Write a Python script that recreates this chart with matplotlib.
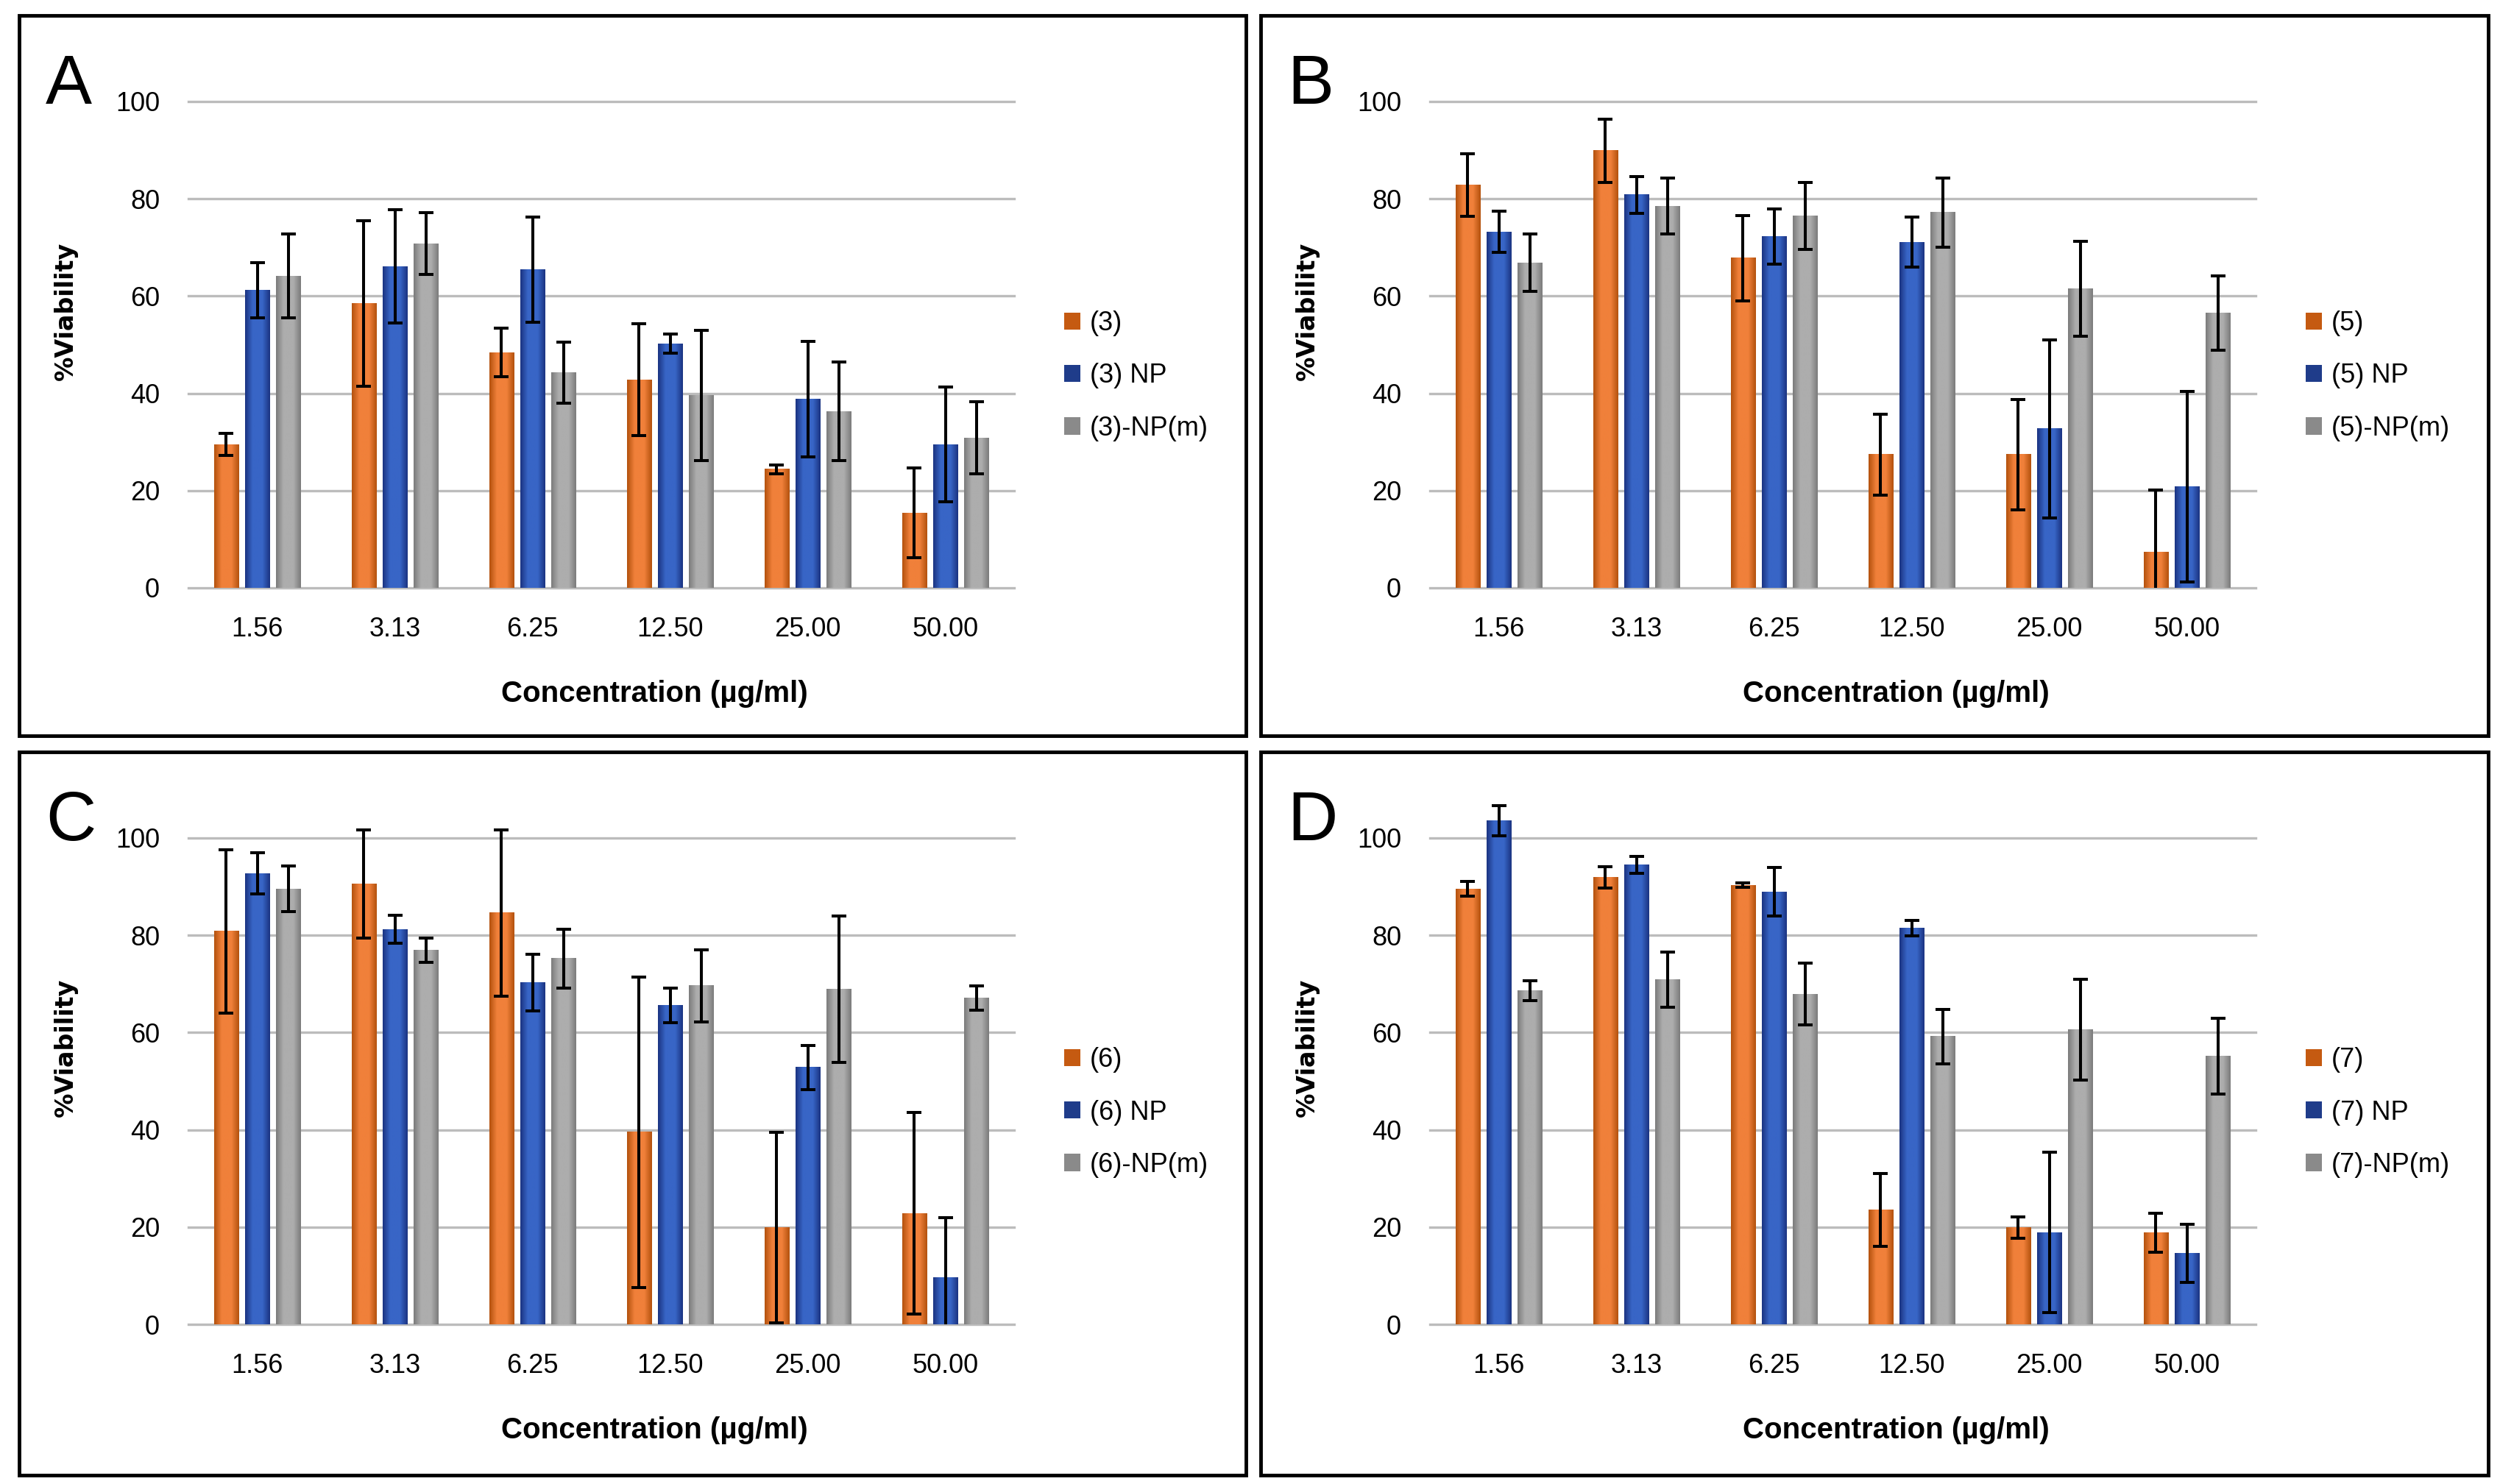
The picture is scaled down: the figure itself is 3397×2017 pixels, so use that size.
import numpy as np
import matplotlib
matplotlib.use("Agg")
import matplotlib.pyplot as plt
from matplotlib.colors import LinearSegmentedColormap
from matplotlib.patches import Rectangle, Patch

# ------------- Data --------------
concentrations = ["1.56", "3.13", "6.25", "12.50", "25.00", "50.00"]

a_drug = [29.5, 58.5, 48.4, 42.8, 24.4, 15.4]
a_drug_err = [2.2, 17.0, 5.0, 11.5, 0.9, 9.2]
a_np = [61.2, 66.1, 65.4, 50.2, 38.8, 29.5]
a_np_err = [5.7, 11.7, 10.8, 2.0, 11.9, 11.8]
a_npm = [64.1, 70.8, 44.2, 39.6, 36.3, 30.8]
a_npm_err = [8.6, 6.4, 6.3, 13.4, 10.1, 7.4]

b_drug = [82.8, 89.9, 67.8, 27.4, 27.4, 7.4]
b_drug_err = [6.4, 6.5, 8.8, 8.3, 11.4, 12.7]
b_np = [73.2, 80.8, 72.2, 71.1, 32.7, 20.8]
b_np_err = [4.2, 3.8, 5.7, 5.2, 18.3, 19.6]
b_npm = [66.8, 78.5, 76.5, 77.2, 61.5, 56.5]
b_npm_err = [5.9, 5.8, 6.9, 7.1, 9.7, 7.6]

c_drug = [80.8, 90.5, 84.6, 39.5, 19.9, 22.8]
c_drug_err = [16.8, 11.1, 17.1, 31.9, 19.6, 20.7]
c_np = [92.7, 81.2, 70.3, 65.6, 52.8, 9.6]
c_np_err = [4.2, 2.9, 5.8, 3.6, 4.6, 12.3]
c_npm = [89.5, 76.9, 75.2, 69.6, 68.9, 67.1]
c_npm_err = [4.7, 2.5, 6.1, 7.4, 15.0, 2.5]

d_drug = [89.5, 91.9, 90.3, 23.5, 19.9, 18.9]
d_drug_err = [1.5, 2.2, 0.4, 7.5, 2.2, 4.0]
d_np = [103.5, 94.5, 88.9, 81.5, 18.9, 14.6]
d_np_err = [3.1, 1.7, 5.0, 1.6, 16.5, 6.0]
d_npm = [68.6, 70.9, 67.9, 59.2, 60.6, 55.2]
d_npm_err = [2.1, 5.7, 6.4, 5.6, 10.4, 7.8]

panels = [
    ("A", "(3)", (a_drug, a_drug_err), (a_np, a_np_err), (a_npm, a_npm_err)),
    ("B", "(5)", (b_drug, b_drug_err), (b_np, b_np_err), (b_npm, b_npm_err)),
    ("C", "(6)", (c_drug, c_drug_err), (c_np, c_np_err), (c_npm, c_npm_err)),
    ("D", "(7)", (d_drug, d_drug_err), (d_np, d_np_err), (d_npm, d_npm_err)),
]

# colours: (edge, middle) for the bar gradients, plus legend swatch
shades = [("#b4520e", "#f0803a"), ("#1b3482", "#3865c6"), ("#7c7c7c", "#adadad")]
legend_cols = ["#c55a11", "#1f3c8a", "#8a8a8a"]

# ------------- Affichage --------------
W, H = 3397, 2017
fig = plt.figure(figsize=(W / 100, H / 100), dpi=100)

tick_font = ["Liberation Sans", "DejaVu Sans"]

# panel frames (pixel coords: left, top, right, bottom)
frames = [(26, 21, 1693, 1000), (1713, 21, 3381, 1000),
          (26, 1022, 1693, 2005), (1713, 1022, 3381, 2005)]

grad = np.linspace(0, 1, 64).reshape(1, -1)
x = np.arange(len(concentrations))
step = 0.226
width = 0.177

for (letter, name, s1, s2, s3), (pl, pt, pr, pb) in zip(panels, frames):
    fig.add_artist(Rectangle((pl / W, 1 - pb / H), (pr - pl) / W, (pb - pt) / H,
                             transform=fig.transFigure, fill=False,
                             edgecolor="black", linewidth=3.5))

    ax_left = pl + 230
    ax_w = 1122
    y0 = pt + 778
    unit = 6.61
    ax = fig.add_axes([ax_left / W, 1 - y0 / H, ax_w / W, unit * 110 / H])

    labels = [name, name + " NP", name + "-NP(m)"]
    for k, (vals, errs) in enumerate([s1, s2, s3]):
        pos = x + (k - 1) * step
        bars = ax.bar(pos, vals, width, color=shades[k][1], zorder=2)
        cmap = LinearSegmentedColormap.from_list(
            "g%d" % k, [(0, shades[k][0]), (0.3, shades[k][1]),
                        (0.7, shades[k][1]), (1, shades[k][0])])
        for b in bars:
            bx, bw, bh = b.get_x(), b.get_width(), b.get_height()
            ax.imshow(grad, cmap=cmap, extent=[bx, bx + bw, 0, bh],
                      aspect="auto", zorder=2.1, interpolation="bilinear")
        ax.errorbar(pos, vals, yerr=errs, fmt="none", ecolor="black",
                    elinewidth=2.9, capsize=7, capthick=2.9, zorder=4)

    ax.set_xlim(-0.5, len(concentrations) - 0.5)
    ax.set_ylim(0, 110)
    ax.set_yticks([0, 20, 40, 60, 80, 100])
    ax.set_xticks(x)
    ax.set_xticklabels(concentrations)
    ax.grid(axis="y", color="#bcbcbc", linewidth=2.4)
    ax.set_axisbelow(True)
    for gl in ax.get_ygridlines():
        gl.set_clip_on(False)
    for sp in ax.spines.values():
        sp.set_visible(False)
    ax.tick_params(length=0, labelsize=26, pad=28)
    for t in ax.get_xticklabels() + ax.get_yticklabels():
        t.set_family(tick_font)

    handles = [Patch(facecolor=c, edgecolor="none") for c in legend_cols]
    ax.legend(handles, labels, loc="center left",
              bbox_to_anchor=((pl + 1420) / W, 1 - (pt + 490) / H),
              bbox_transform=fig.transFigure, frameon=False,
              prop={"family": tick_font, "size": 26},
              handlelength=0.62, handleheight=0.62, handletextpad=0.35,
              labelspacing=1.0, borderpad=0, borderaxespad=0)

    fig.text((pl + 36) / W, 1 - (pt + 120) / H, letter, fontsize=68,
             family=tick_font, va="baseline", ha="left")
    fig.text((pl + 63) / W, 1 - (pt + 402) / H, "%Viability", rotation=90,
             fontsize=24, fontweight="bold", family="DejaVu Sans",
             ha="center", va="center")
    fig.text((pl + 863) / W, 1 - (pt + 922) / H, "Concentration (µg/ml)",
             fontsize=29, fontweight="bold", family=tick_font,
             ha="center", va="center")

fig.savefig("out.png", dpi=100)
